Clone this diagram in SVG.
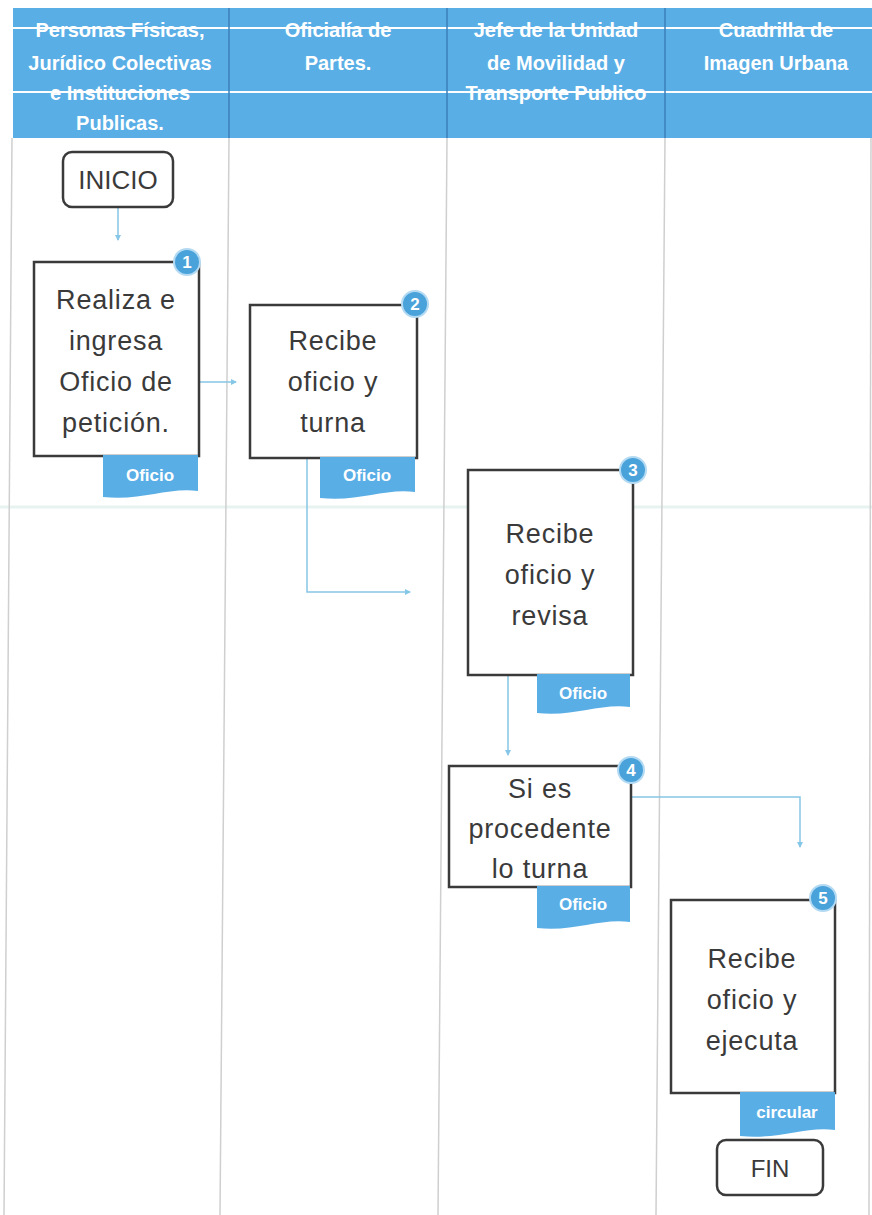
<svg xmlns="http://www.w3.org/2000/svg" width="872" height="1215" viewBox="0 0 872 1215">
<style>
.hdr{font-family:"Liberation Sans",Arial,sans-serif;font-weight:bold;font-size:20px;fill:#ffffff;text-anchor:middle}
.box{fill:#ffffff;stroke:#3a3a3a;stroke-width:2.5}
.term{fill:#ffffff;stroke:#3a3a3a;stroke-width:2.5}
.txt{font-family:"Liberation Sans",Arial,sans-serif;font-size:27px;fill:#3a3a3a;text-anchor:middle;letter-spacing:0.8px}
.tag{fill:#5aaee6}
.tagt{font-family:"Liberation Sans",Arial,sans-serif;font-weight:bold;font-size:17px;fill:#ffffff;text-anchor:middle}
.badge{fill:#4aa2da;stroke:#b3daf2;stroke-width:2}
.bnum{font-family:"Liberation Sans",Arial,sans-serif;font-weight:bold;font-size:17px;fill:#ffffff;text-anchor:middle}
.lane{stroke:#cfcfcf;stroke-width:1.5;fill:none}
.conn{stroke:#86c6e6;stroke-width:1.5;fill:none}
</style>
<defs>
<marker id="arr" markerWidth="6" markerHeight="6" refX="5" refY="3" orient="auto" markerUnits="userSpaceOnUse">
<path d="M0,0 L6,3 L0,6 Z" fill="#86c6e6"/>
</marker>
</defs>
<rect x="0" y="0" width="872" height="1215" fill="#ffffff"/>
<g id="lanes">
<rect x="13" y="8" width="859" height="130" fill="#5aaee6"/>
<line x1="13" y1="28" x2="872" y2="28" stroke="#ffffff" stroke-width="2"/>
<line x1="13" y1="92" x2="872" y2="92" stroke="#ffffff" stroke-width="2"/>
<line x1="229" y1="8" x2="229" y2="138" stroke="#3d7fb8" stroke-width="1.5"/>
<line x1="447" y1="8" x2="447" y2="138" stroke="#3d7fb8" stroke-width="1.5"/>
<line x1="665" y1="8" x2="665" y2="138" stroke="#3d7fb8" stroke-width="1.5"/>
<line x1="0" y1="507" x2="872" y2="507" stroke="#e6f3f0" stroke-width="3"/>
<line class="lane" x1="12" y1="138" x2="4" y2="1215"/>
<line class="lane" x1="229" y1="138" x2="220" y2="1215"/>
<line class="lane" x1="447" y1="138" x2="438" y2="1215"/>
<line class="lane" x1="665" y1="138" x2="656" y2="1215"/>
<line class="lane" x1="871" y1="138" x2="869" y2="1215"/>
<text class="hdr" x="120" y="37">Personas Físicas,</text>
<text class="hdr" x="120" y="70">Jurídico Colectivas</text>
<text class="hdr" x="120" y="100">e Instituciones</text>
<text class="hdr" x="120" y="130">Publicas.</text>
<text class="hdr" x="338" y="37">Oficialía de</text>
<text class="hdr" x="338" y="70">Partes.</text>
<text class="hdr" x="556" y="37">Jefe de la Unidad</text>
<text class="hdr" x="556" y="70">de Movilidad y</text>
<text class="hdr" x="556" y="100">Transporte Publico</text>
<text class="hdr" x="776" y="37">Cuadrilla de</text>
<text class="hdr" x="776" y="70">Imagen Urbana</text>
</g>
<g id="connectors">
<path class="conn" d="M118 208 V240" marker-end="url(#arr)"/>
<path class="conn" d="M200 382 H236" marker-end="url(#arr)"/>
<path class="conn" d="M307 459 V592 H410" marker-end="url(#arr)"/>
<path class="conn" d="M508 676 V755" marker-end="url(#arr)"/>
<path class="conn" d="M632 797 H800 V847" marker-end="url(#arr)"/>
</g>
<g id="inicio">
<rect class="term" x="63" y="152" width="110" height="55" rx="9"/>
<text class="txt" x="118" y="189" style="font-size:26px;letter-spacing:0">INICIO</text>
</g>
<g id="step1">
<rect class="box" x="34" y="262" width="165" height="194"/>
<text class="txt"><tspan x="116" y="309">Realiza e</tspan><tspan x="116" y="350">ingresa</tspan><tspan x="116" y="391">Oficio de</tspan><tspan x="116" y="432">petición.</tspan></text>
<path class="tag" d="M103 455 H198 V491 C168 487 143 501 103 497 Z"/>
<text class="tagt" x="150" y="481">Oficio</text>
<circle class="badge" cx="187" cy="262" r="13"/>
<text class="bnum" x="187" y="268">1</text>
</g>
<g id="step2">
<rect class="box" x="250" y="305" width="167" height="153"/>
<text class="txt"><tspan x="333" y="350">Recibe</tspan><tspan x="333" y="391">oficio y</tspan><tspan x="333" y="432">turna</tspan></text>
<path class="tag" d="M320 457 H415 V492 C385 488 360 502 320 498 Z"/>
<text class="tagt" x="367" y="481">Oficio</text>
<circle class="badge" cx="415" cy="304" r="13"/>
<text class="bnum" x="415" y="310">2</text>
</g>
<g id="step3">
<rect class="box" x="468" y="470" width="165" height="205"/>
<text class="txt"><tspan x="550" y="543">Recibe</tspan><tspan x="550" y="584">oficio y</tspan><tspan x="550" y="625">revisa</tspan></text>
<path class="tag" d="M537 674 H630 V707 C600 703 575 717 537 713 Z"/>
<text class="tagt" x="583" y="699">Oficio</text>
<circle class="badge" cx="633" cy="470" r="13"/>
<text class="bnum" x="633" y="476">3</text>
</g>
<g id="step4">
<rect class="box" x="449" y="766" width="182" height="121"/>
<text class="txt"><tspan x="540" y="798">Si es</tspan><tspan x="540" y="838">procedente</tspan><tspan x="540" y="878">lo turna</tspan></text>
<path class="tag" d="M537 886 H630 V922 C600 918 575 932 537 928 Z"/>
<text class="tagt" x="583" y="910">Oficio</text>
<circle class="badge" cx="631" cy="770" r="13"/>
<text class="bnum" x="631" y="776">4</text>
</g>
<g id="step5">
<rect class="box" x="671" y="900" width="164" height="193"/>
<text class="txt"><tspan x="752" y="968">Recibe</tspan><tspan x="752" y="1009">oficio y</tspan><tspan x="752" y="1050">ejecuta</tspan></text>
<path class="tag" d="M740 1092 H835 V1130 C805 1126 780 1140 740 1136 Z"/>
<text class="tagt" x="787" y="1118">circular</text>
<circle class="badge" cx="823" cy="898" r="13"/>
<text class="bnum" x="823" y="904">5</text>
</g>
<g id="fin">
<rect class="term" x="717" y="1140" width="106" height="55" rx="9"/>
<text class="txt" x="770" y="1177" style="font-size:24px;letter-spacing:0">FIN</text>
</g>
</svg>
